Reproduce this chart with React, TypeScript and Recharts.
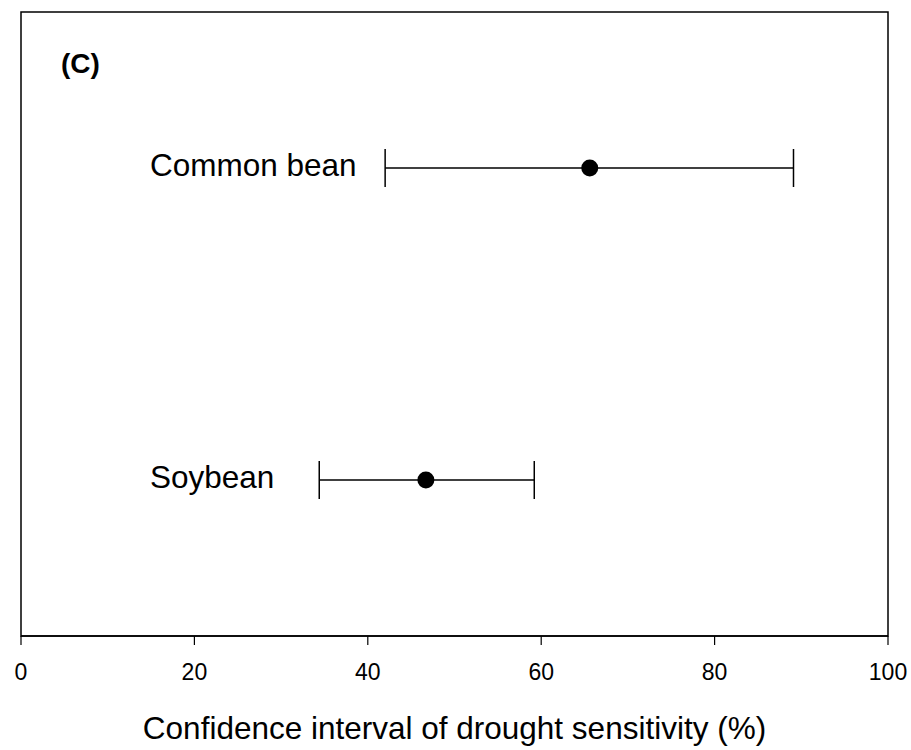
import {
  ScatterChart,
  Scatter,
  XAxis,
  YAxis,
  ErrorBar,
  ReferenceArea,
} from "recharts";

const crops = ["Common bean", "Soybean"];
const means = [65.6, 46.7];
const lows = [42.0, 34.4];
const highs = [89.1, 59.2];
const rows = [3, 1];
const xTicks = [0, 20, 40, 60, 80, 100];

const FONT = "Arial, 'Liberation Sans', sans-serif";

const data = crops.map((name, i) => ({
  name,
  x: means[i],
  y: rows[i],
  err: [means[i] - lows[i], highs[i] - means[i]],
}));

// dot plus the crop name, which is left-aligned at a fixed spot in the panel
const PointShape = (props: any) => {
  const { cx, cy, payload } = props;
  return (
    <g>
      <text x={150} y={cy + 8} fontSize={31.5} fontFamily={FONT} fill="#000">
        {payload.name}
      </text>
      <circle cx={cx} cy={cy} r={8.5} fill="#000" />
    </g>
  );
};

export default function App() {
  return (
    <div style={{ position: "absolute", left: 0, top: 0, width: 911, height: 750, background: "#fff" }}>
      <ScatterChart
        width={911}
        height={750}
        margin={{ top: 12, right: 23, left: 21, bottom: 5 }}
      >
        {/* panel frame */}
        <ReferenceArea
          x1={0}
          x2={100}
          y1={0}
          y2={4}
          fill="none"
          stroke="#000"
          strokeWidth={1.5}
          fillOpacity={0}
        />
        <XAxis
          type="number"
          dataKey="x"
          domain={[0, 100]}
          ticks={xTicks}
          height={109}
          stroke="#000"
          tickSize={9}
          tickMargin={19}
          tick={{ fill: "#000", fontSize: 23, fontFamily: FONT }}
          axisLine={{ stroke: "#000", strokeWidth: 1.5 }}
          tickLine={{ stroke: "#000", strokeWidth: 1.2 }}
          label={{
            value: "Confidence interval of drought sensitivity (%)",
            position: "insideBottom",
            offset: 6,
            fill: "#000",
            fontSize: 31.5,
            fontFamily: FONT,
          }}
        />
        <YAxis type="number" dataKey="y" domain={[0, 4]} hide />
        <Scatter data={data} shape={<PointShape />} isAnimationActive={false}>
          <ErrorBar
            dataKey="err"
            direction="x"
            width={19}
            stroke="#000"
            strokeWidth={1.5}
            isAnimationActive={false}
          />
        </Scatter>
      </ScatterChart>
      <div
        style={{
          position: "absolute",
          left: 61,
          top: 50,
          fontFamily: FONT,
          fontWeight: "bold",
          fontSize: 28,
          lineHeight: "28px",
          color: "#000",
        }}
      >
        (C)
      </div>
    </div>
  );
}
